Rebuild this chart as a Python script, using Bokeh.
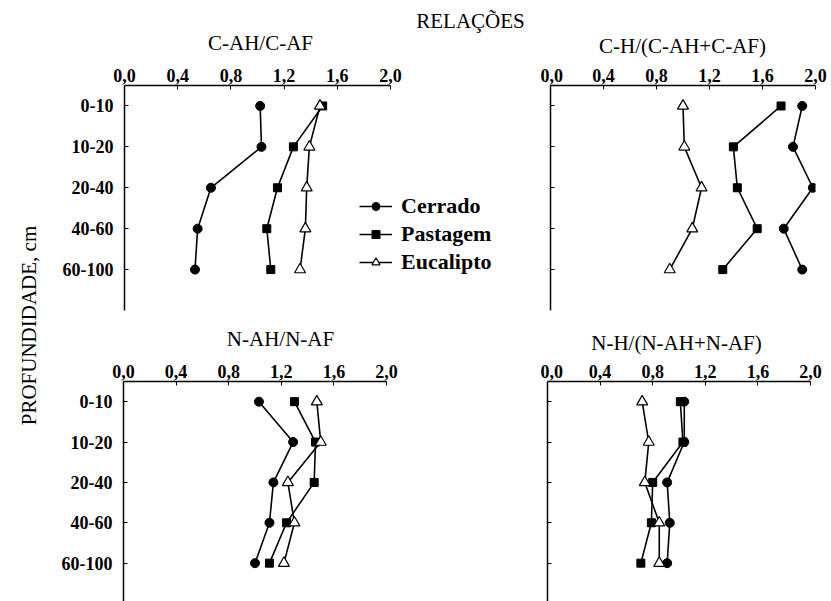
import math
from bokeh.plotting import figure
from bokeh.layouts import row, column
from bokeh.models import (Range1d, FixedTicker, CustomJSTickFormatter, Label,
                          Legend, LegendItem)
from bokeh.embed import file_html
from bokeh.resources import INLINE

# ---------------- data ----------------
depth_labels = ["0-10", "10-20", "20-40", "40-60", "60-100"]
depth_pos = [1, 2, 3, 4, 5]
x_ticks = [0.0, 0.4, 0.8, 1.2, 1.6, 2.0]

series_names = ["Cerrado", "Pastagem", "Eucalipto"]

cah_caf_cerrado = [1.02, 1.03, 0.65, 0.55, 0.53]
cah_caf_pastagem = [1.49, 1.27, 1.15, 1.07, 1.10]
cah_caf_eucalipto = [1.47, 1.39, 1.37, 1.36, 1.32]

ch_cerrado = [1.90, 1.83, 1.98, 1.76, 1.90]
ch_pastagem = [1.74, 1.38, 1.41, 1.56, 1.30]
ch_eucalipto = [1.00, 1.01, 1.14, 1.07, 0.90]

nah_naf_cerrado = [1.03, 1.29, 1.14, 1.11, 1.00]
nah_naf_pastagem = [1.30, 1.46, 1.45, 1.24, 1.11]
nah_naf_eucalipto = [1.47, 1.50, 1.25, 1.30, 1.22]

nh_cerrado = [1.04, 1.04, 0.91, 0.93, 0.91]
nh_pastagem = [1.01, 1.03, 0.80, 0.79, 0.71]
nh_eucalipto = [0.72, 0.77, 0.74, 0.85, 0.85]

main_title = "RELAÇÕES"
y_title = "PROFUNDIDADE, cm"
panel_titles = ["C-AH/C-AF", "C-H/(C-AH+C-AF)", "N-AH/N-AF", "N-H/(N-AH+N-AF)"]

FONT = "Liberation Serif"


def make_panel(width, height, mbl, mbr, mbt, mbb, x_end, y_start, y_end, ylabels):
    p = figure(width=width, height=height, x_range=Range1d(0, x_end),
               y_range=Range1d(y_start, y_end), x_axis_location="above",
               output_backend="svg", toolbar_location=None,
               min_border_left=mbl, min_border_right=mbr,
               min_border_top=mbt, min_border_bottom=mbb)
    p.outline_line_color = None
    p.grid.visible = False
    xa = p.xaxis[0]
    xa.ticker = FixedTicker(ticks=x_ticks)
    xa.bounds = (0, 2.0)
    xa.formatter = CustomJSTickFormatter(code="return tick.toFixed(1).replace('.', ',');")
    ya = p.yaxis[0]
    ya.ticker = FixedTicker(ticks=depth_pos)
    if ylabels:
        ya.major_label_overrides = {k: v for k, v in zip(depth_pos, depth_labels)}
        ya.major_label_standoff = 11
    else:
        ya.major_label_overrides = {k: "" for k in depth_pos}
        ya.major_label_standoff = 0
    for ax in (xa, ya):
        ax.axis_line_color = "black"
        ax.axis_line_width = 1.5
        ax.major_tick_in = 4
        ax.major_tick_out = 0
        ax.major_tick_line_color = "black"
        ax.major_tick_line_width = 1
        ax.minor_tick_line_color = None
        ax.major_label_text_font = FONT
        ax.major_label_text_font_style = "bold"
        ax.major_label_text_font_size = "18px"
        ax.major_label_text_color = "black"
    xa.major_label_standoff = 4
    return p


def draw_series(p, cer, pas, euc):
    r1 = p.line(cer, depth_pos, line_color="black", line_width=1.6)
    m1 = p.scatter(cer, depth_pos, marker="circle", size=9, fill_color="black", line_color="black")
    r2 = p.line(pas, depth_pos, line_color="black", line_width=1.6)
    m2 = p.scatter(pas, depth_pos, marker="square", size=8, fill_color="black", line_color="black")
    r3 = p.line(euc, depth_pos, line_color="black", line_width=1.6)
    m3 = p.scatter(euc, depth_pos, marker="triangle", size=11, fill_color="white",
                   line_color="black", line_width=1.2)
    return [[r1, m1], [r2, m2], [r3, m3]]


def text_fig(width, height):
    f = figure(width=width, height=height, x_range=Range1d(0, width),
               y_range=Range1d(height, 0), output_backend="svg", toolbar_location=None,
               min_border_left=0, min_border_right=0, min_border_top=0, min_border_bottom=0)
    f.axis.visible = False
    f.grid.visible = False
    f.outline_line_color = None
    return f


def add_text(p, x, y, text, size, style="normal", angle=0.0):
    p.add_layout(Label(x=x, y=y, text=text, text_font=FONT, text_font_size=size,
                       text_font_style=style, text_align="center", angle=angle,
                       text_baseline="middle", text_color="black"))


# left column with the depth title
lab = figure(width=56, height=601, x_range=Range1d(0, 56), y_range=Range1d(0, 601),
             output_backend="svg", toolbar_location=None,
             min_border_left=0, min_border_right=0, min_border_top=0, min_border_bottom=0)
lab.axis.visible = False
lab.grid.visible = False
lab.outline_line_color = None
add_text(lab, 28, 276, y_title, "21px", angle=math.pi / 2)

# top titles row
top_txt = text_fig(775, 58)
add_text(top_txt, 414, 20, main_title, "21px")
add_text(top_txt, 204, 42, panel_titles[0], "21px")
add_text(top_txt, 626, 45, panel_titles[1], "21px")

# top-left panel (frame widened to the right so the legend fits in it)
tl = make_panel(484, 267, 68, 0, 27, 15, 3.128, 6.0, 0.5, True)
groups = draw_series(tl, cah_caf_cerrado, cah_caf_pastagem, cah_caf_eucalipto)
legend = Legend(items=[LegendItem(label=n, renderers=g) for n, g in zip(series_names, groups)],
                location=(235, 35), padding=0, margin=0, spacing=2,
                glyph_width=33, glyph_height=20, label_height=20, label_standoff=9,
                label_text_font=FONT, label_text_font_style="bold",
                label_text_font_size="22px", label_text_color="black",
                border_line_color=None, background_fill_alpha=0)
tl.add_layout(legend, "center")

# top-right panel
tr = make_panel(291, 267, 10, 16, 27, 15, 2.0, 6.0, 0.5, False)
draw_series(tr, ch_cerrado, ch_pastagem, ch_eucalipto)

# bottom titles row
bot_txt = text_fig(775, 30)
add_text(bot_txt, 224, 13, panel_titles[2], "21px")
add_text(bot_txt, 620, 17, panel_titles[3], "21px")

# bottom-left panel
bl = make_panel(484, 246, 67, 154, 26, 0, 2.0, 5.95, 0.5, True)
draw_series(bl, nah_naf_cerrado, nah_naf_pastagem, nah_naf_eucalipto)

# bottom-right panel
br = make_panel(291, 246, 7, 21, 26, 0, 2.0, 5.95, 0.5, False)
draw_series(br, nh_cerrado, nh_pastagem, nh_eucalipto)

layout = row(lab, column(top_txt, row(tl, tr), bot_txt, row(bl, br)))

open("out.html", "w").write(file_html(layout, INLINE))
